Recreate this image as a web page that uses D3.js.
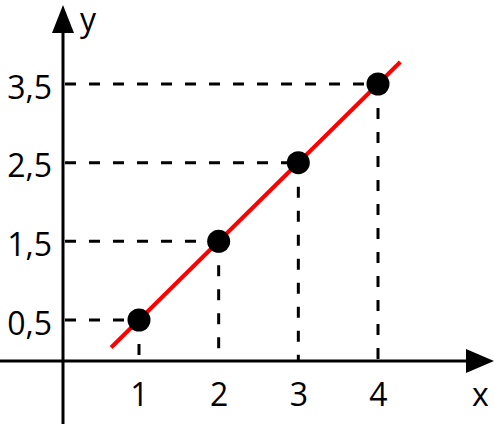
<!DOCTYPE html>
<html>
<head>
<meta charset="utf-8">
<script src="https://cdn.jsdelivr.net/npm/d3@7"></script>
<style>
  body { margin: 0; background: #fff; }
  text { font-family: "Open Sans", sans-serif; fill: #000; }
</style>
</head>
<body>
<div id="chart"></div>
<script>
// points
var xValues = [1, 2, 3, 4];
var yValues = [0.5, 1.5, 2.5, 3.5];
var xTickLabels = ["1", "2", "3", "4"];
var yTickLabels = ["0,5", "1,5", "2,5", "3,5"];
// red fitted line, end points
var lineX = [0.65, 4.28];
var lineY = [0.15, 3.78];

var width = 494, height = 424;
var originX = 63, originY = 361;

var svg = d3.select("#chart")
    .append("svg")
    .attr("width", width)
    .attr("height", height);

var x = d3.scaleLinear().domain([1, 4]).range([139, 378]);
var y = d3.scaleLinear().domain([0.5, 3.5]).range([320, 84]);

// dashed guides
var guides = svg.append("g")
    .attr("stroke", "#000")
    .attr("stroke-width", 3)
    .attr("stroke-dasharray", "11,13")
    .attr("fill", "none");

guides.selectAll(".h").data(xValues).enter().append("line")
    .attr("x1", originX + 2)
    .attr("x2", function(d){ return x(d); })
    .attr("y1", function(d, i){ return y(yValues[i]); })
    .attr("y2", function(d, i){ return y(yValues[i]); });

guides.selectAll(".v").data(xValues).enter().append("line")
    .attr("x1", function(d){ return x(d); })
    .attr("x2", function(d){ return x(d); })
    .attr("y1", function(d, i){ return y(yValues[i]); })
    .attr("y2", originY);

// axes lines + arrows
svg.append("line")
    .attr("x1", 0).attr("x2", 470)
    .attr("y1", originY).attr("y2", originY)
    .attr("stroke", "#000").attr("stroke-width", 3);
svg.append("line")
    .attr("x1", originX).attr("x2", originX)
    .attr("y1", 30).attr("y2", height)
    .attr("stroke", "#000").attr("stroke-width", 3);
svg.append("path")
    .attr("d", "M494," + originY + " L466," + (originY - 12) + " L466," + (originY + 12) + " Z")
    .attr("fill", "#000");
svg.append("path")
    .attr("d", "M" + originX + ",5 L" + (originX - 11) + ",33 L" + (originX + 11) + ",33 Z")
    .attr("fill", "#000");

// tick labels via d3 axes
var xAxis = d3.axisBottom(x).tickValues(xValues)
    .tickFormat(function(d, i){ return xTickLabels[i]; })
    .tickSize(0).tickPadding(22);
var gx = svg.append("g").attr("transform", "translate(0," + originY + ")").call(xAxis);

var yAxis = d3.axisLeft(y).tickValues(yValues)
    .tickFormat(function(d, i){ return yTickLabels[i]; })
    .tickSize(0).tickPadding(11);
var gy = svg.append("g").attr("transform", "translate(" + originX + ",0)").call(yAxis);

[gx, gy].forEach(function(g){
    g.select(".domain").remove();
    g.selectAll("text")
        .attr("fill", "#000")
        .style("font-family", "'Open Sans', sans-serif")
        .style("font-size", "32px");
});
gy.selectAll("text").attr("dy", "0.44em");

// red line
var line = d3.line()
    .x(function(d){ return x(d[0]); })
    .y(function(d){ return y(d[1]); });
svg.append("path")
    .datum(d3.zip(lineX, lineY))
    .attr("d", line)
    .attr("stroke", "#ff0000")
    .attr("stroke-width", 4)
    .attr("fill", "none");

// points
svg.selectAll(".pt").data(xValues).enter().append("circle")
    .attr("cx", function(d){ return x(d); })
    .attr("cy", function(d, i){ return y(yValues[i]); })
    .attr("r", 11.5)
    .attr("fill", "#000");

// axis names
svg.append("text").attr("x", 472).attr("y", 406)
    .style("font-size", "32px").text("x");
svg.append("text").attr("x", 80).attr("y", 31)
    .style("font-size", "32px").text("y");
</script>
</body>
</html>
